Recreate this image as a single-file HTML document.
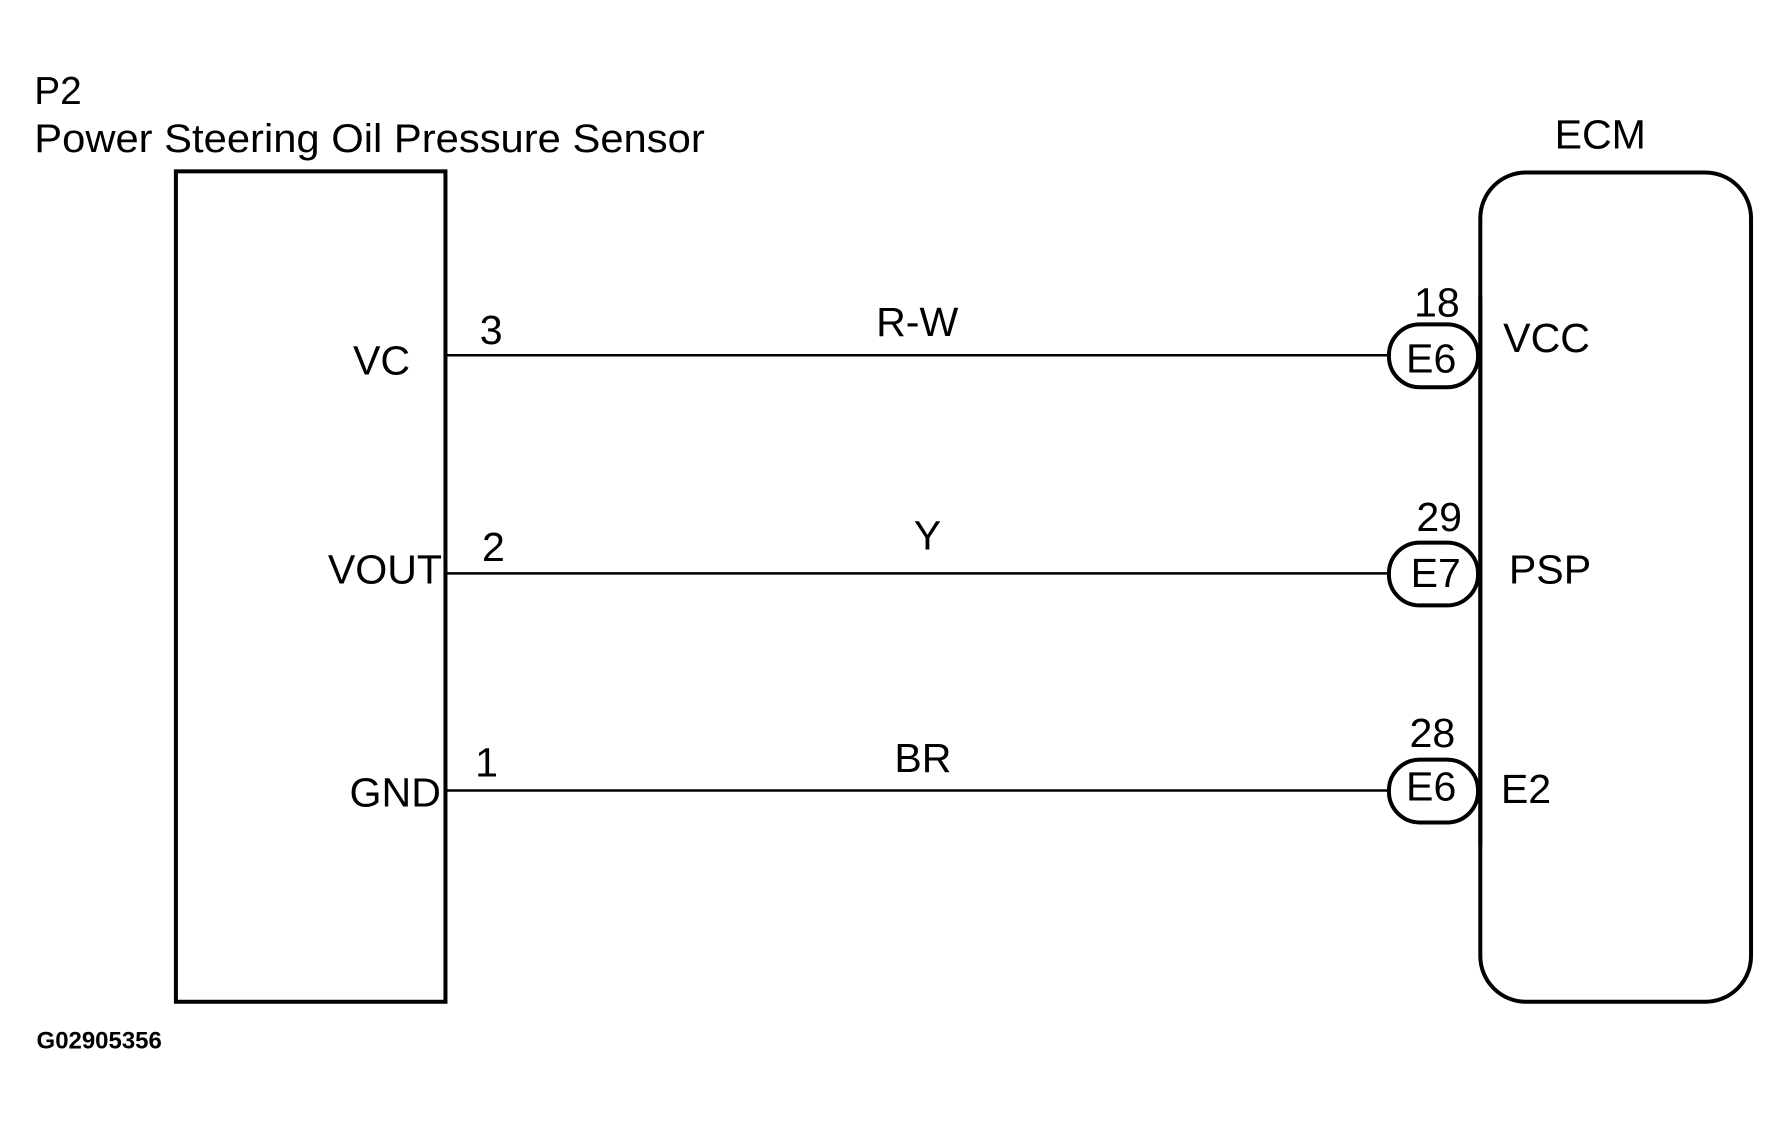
<!DOCTYPE html>
<html><head><meta charset="utf-8"><style>
html,body{margin:0;padding:0;background:#fff;}
svg{display:block;}
text{font-family:"Liberation Sans",Arial,sans-serif;fill:#000;}
</style></head><body>
<svg width="1791" height="1124" viewBox="0 0 1568 984" preserveAspectRatio="none" xmlns="http://www.w3.org/2000/svg">
<rect width="1568" height="984" fill="#fff"/>
<text x="30" y="91" font-size="34">P2</text>
<text x="30" y="133" font-size="35" textLength="587" lengthAdjust="spacingAndGlyphs">Power Steering Oil Pressure Sensor</text>
<rect x="154" y="150" width="236" height="727" fill="none" stroke="#000" stroke-width="3.5"/>
<text x="1401" y="130" font-size="36" text-anchor="middle">ECM</text>
<rect x="1296" y="151" width="237" height="726" rx="40" ry="40" fill="none" stroke="#000" stroke-width="3.5"/>
<g stroke="#000" stroke-width="2.2">
<line x1="390" y1="311" x2="1216" y2="311"/>
<line x1="390" y1="502" x2="1216" y2="502"/>
<line x1="390" y1="692" x2="1216" y2="692"/>
</g>
<g fill="#fff" stroke="#000" stroke-width="3.5">
<rect x="1216" y="284" width="78" height="55" rx="27" ry="27"/>
<rect x="1216" y="475" width="78" height="55" rx="27" ry="27"/>
<rect x="1216" y="665" width="78" height="55" rx="27" ry="27"/>
</g>
<line x1="1296" y1="260" x2="1296" y2="740" stroke="#000" stroke-width="3.5"/>
<g font-size="36">
<text x="1253" y="326" text-anchor="middle">E6</text>
<text x="1257" y="514" text-anchor="middle">E7</text>
<text x="1253" y="701" text-anchor="middle">E6</text>
<text x="1258" y="277" text-anchor="middle">18</text>
<text x="1260" y="465" text-anchor="middle">29</text>
<text x="1254" y="654" text-anchor="middle">28</text>
<text x="1316" y="308">VCC</text>
<text x="1321" y="511">PSP</text>
<text x="1314" y="703">E2</text>
<text x="359" y="328" text-anchor="end">VC</text>
<text x="387" y="511" text-anchor="end">VOUT</text>
<text x="386" y="706" text-anchor="end">GND</text>
<text x="430" y="301" text-anchor="middle">3</text>
<text x="432" y="491" text-anchor="middle">2</text>
<text x="426" y="680" text-anchor="middle">1</text>
<text x="803" y="294" text-anchor="middle">R-W</text>
<text x="812" y="481" text-anchor="middle">Y</text>
<text x="808" y="676" text-anchor="middle">BR</text>
</g>
<text x="32" y="918" font-size="21" font-weight="bold">G02905356</text>
</svg>
</body></html>
